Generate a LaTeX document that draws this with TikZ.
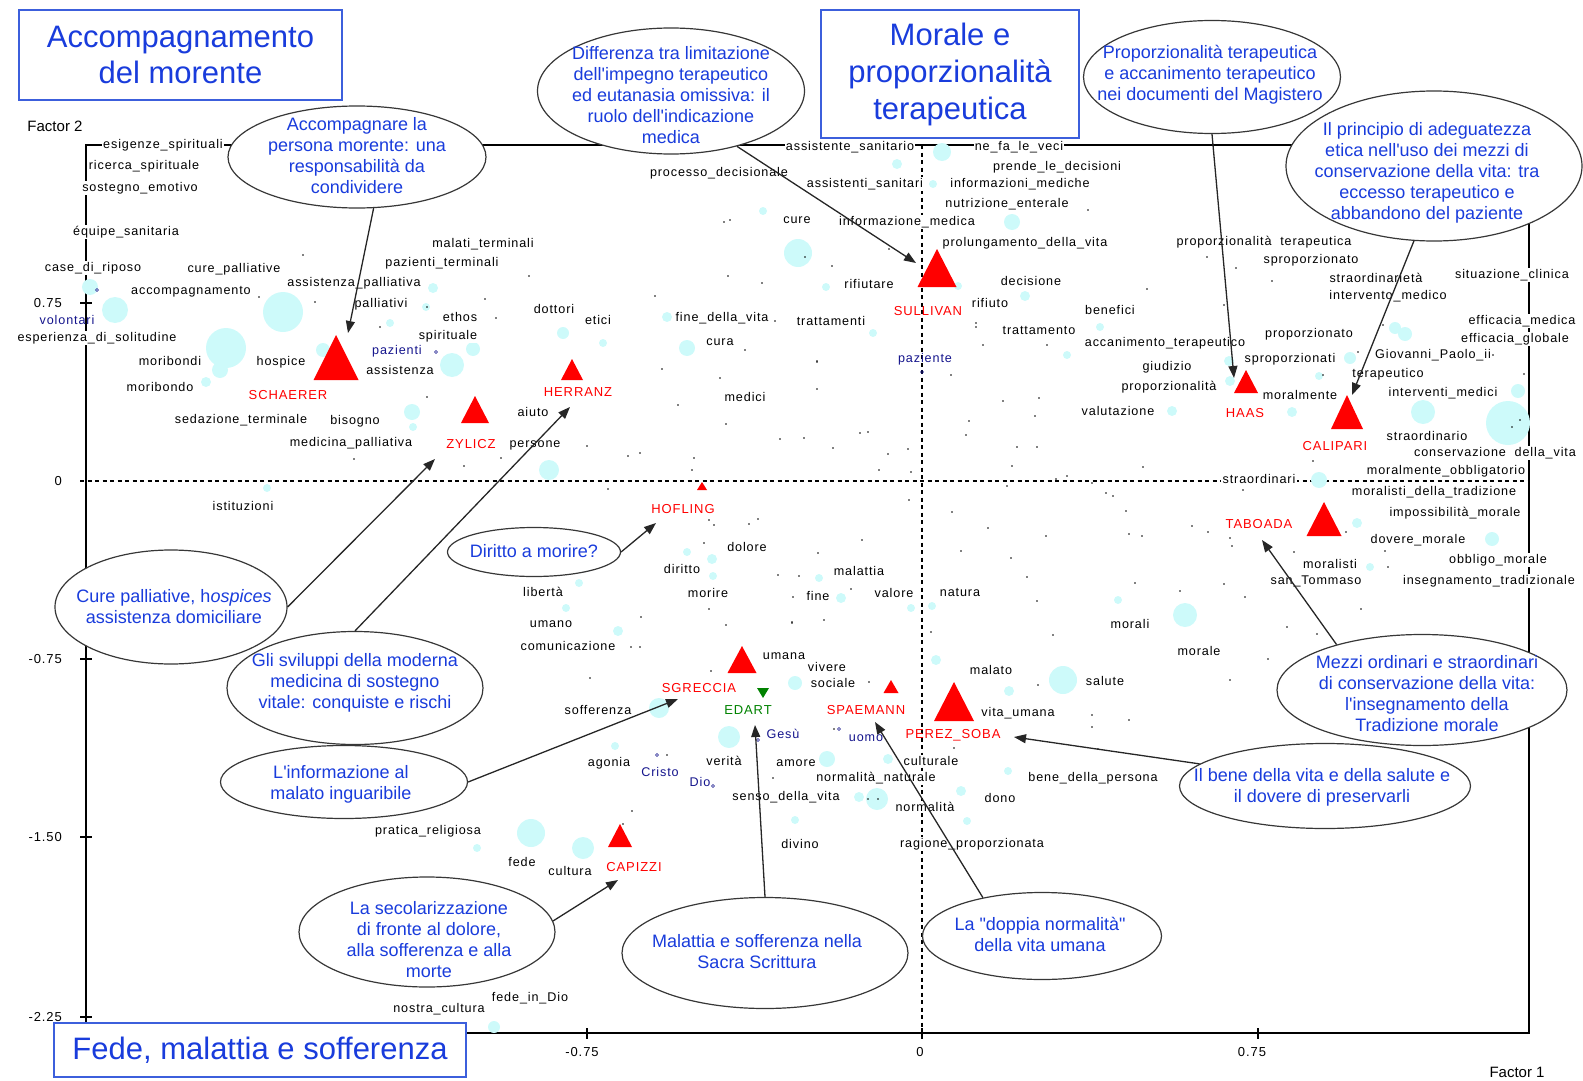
\documentclass[tikz,border=0pt]{standalone}
\usepackage{fontspec}
\setmainfont{Liberation Sans}
\newfontfamily\lblfont[LetterSpace=7]{Liberation Sans}
\newfontfamily\ovalfont{Liberation Sans}
\usetikzlibrary{arrows.meta,shapes.geometric}

\definecolor{titleblue}{RGB}{25,60,220}
\definecolor{boxblue}{RGB}{60,95,220}
\definecolor{navy}{RGB}{20,20,140}
\definecolor{bubble}{RGB}{205,250,250}
\definecolor{authred}{RGB}{255,0,0}
\definecolor{authgreen}{RGB}{0,130,0}
\definecolor{outline}{RGB}{55,55,55}

\begin{document}
\begin{tikzpicture}[x=1pt,y=-1pt,
  lbl/.style={font=\lblfont\fontsize{12.6}{13}\selectfont, inner sep=1.2pt, fill=white, text=black},
  term/.style={font=\lblfont\fontsize{12.6}{13}\selectfont, inner sep=1pt, text=navy},
  auth/.style={font=\lblfont\fontsize{13}{14}\selectfont, text=authred, inner sep=0pt},
  axlbl/.style={font=\lblfont\fontsize{13}{14}\selectfont, inner sep=0pt},
  oval/.style={ellipse, draw=outline, line width=1.2pt, fill=white, inner sep=0pt},
  ovaltext/.style={align=center, text=titleblue, inner sep=0pt, font=\ovalfont\fontsize{18}{21}\selectfont},
  titlebox/.style={draw=boxblue, line width=1.4pt, fill=white, align=center, text=titleblue, inner sep=0pt, font=\ovalfont\fontsize{31}{36.5}\selectfont},
  conn/.style={draw=black!85, line width=1.3pt, -{Triangle[length=12pt,width=9pt]}},
  axisline/.style={line width=1.1pt},
  refline/.style={line width=1.1pt, dash pattern=on 4pt off 3.5pt},
  bub/.style={fill=bubble},
  termmark/.style={draw=navy, line width=0.6pt},
]

\useasboundingbox (0,0) rectangle (1583,1081);

% plot frame and ticks
\draw[axisline] (86,145) -- (1529,145) -- (1529,1033) -- (86,1033) -- cycle;
\foreach \yy in {303,659,837,1017} \draw[axisline] (80,\yy) -- (92,\yy);
\foreach \xx in {587,922,1258} \draw[axisline] (\xx,1028) -- (\xx,1039);

% zero reference lines
\draw[refline] (80,481) -- (1529,481);
\draw[refline] (922,145) -- (922,1039);

% axis labels
\node[axlbl, anchor=east] (ty1) at (62,303) {0.75};
\node[axlbl, anchor=east] (ty2) at (62,481) {0};
\node[axlbl, anchor=east] (ty3) at (62,659) {-0.75};
\node[axlbl, anchor=east] (ty4) at (62,837) {-1.50};
\node[axlbl, anchor=east] (ty5) at (62,1017) {-2.25};
\node[axlbl] (tx1) at (582,1052) {-0.75};
\node[axlbl] (tx2) at (920,1052) {0};
\node[axlbl] (tx3) at (1252,1052) {0.75};
\node[font=\fontsize{15}{16}\selectfont, inner sep=0pt] (f2) at (55,126) {Factor 2};
\node[font=\fontsize{15}{16}\selectfont, inner sep=0pt] (f1) at (1517,1072) {Factor 1};

% point masses
\foreach \x/\y/\r in {115/310/13, 90/287/8, 283/312/20, 226/348/20, 220/370/8, 206/382/5, 323/350/7,
  390/323/4, 433/288/5, 426/307/4, 452/365/12, 473/349/7, 412/412/8, 413/427/4, 563/333/6, 603/343/4,
  687/348/8, 667/317/5, 763/211/4, 798/253/14, 942/152/9, 897/164/5, 933/184/4, 1012/222/8, 1025/296/5,
  826/287/4, 873/333/4, 1100/327/4, 1067/355/4, 958/286/4, 1395/328/6, 1405/334/7, 1229/361/5,
  1350/358/6, 1292/412/5, 1319/376/4, 1423/412/12, 1508/423/22, 1518/391/7, 1230/381/5, 1319/480/8,
  1357/523/5, 1492/539/7, 1370/567/4, 1185/615/12, 1118/600/4, 1063/680/14, 1009/691/5, 936/660/5,
  932/606/4, 911/608/4, 841/598/5, 819/578/4, 795/683/7, 1172/411/5, 549/470/10, 687/552/4, 712/559/5,
  713/576/4, 579/583/4, 566/608/4, 618/631/5, 659/708/10, 267/488/4, 729/737/11, 615/746/4, 531/833/14,
  583/848/11, 477/848/4, 494/1027/6, 827/759/8, 888/759/5, 877/799/11, 859/797/5, 961/791/5, 967/821/4,
  1008/771/4, 795/820/4}
  \fill[bub] (\x,\y) circle[radius=\r pt];

\foreach \x/\y in {662/369, 720/378, 678/405, 427/397, 726/424, 780/439, 587/446, 501/458, 464/466,
  628/456, 640/453, 694/458, 692/470, 608/489, 709/520, 714/525, 749/524, 758/519, 704/543, 778/575,
  709/609, 641/617, 726/625, 793/597, 792/623, 631/647, 640/647, 590/678, 711/671,
  817/362, 951/375, 817/389, 1003/401, 1039/398, 1035/416, 969/421, 860/433, 868/432, 804/438, 966/435,
  833/448, 888/454, 908/449, 1017/447, 1037/447, 1012/466, 879/470, 911/472, 1143/467, 1056/479,
  1067/476, 1007/486, 1092/483, 1106/493, 1113/496, 909/500, 952/512, 1126/511, 988/528, 1046/536,
  1129/534, 1142/536, 862/540, 818/553, 961/551, 1011/558, 799/576, 1027/577, 1135/583, 851/589,
  1180/591, 1037/601, 792/622, 824/620, 931/632, 1053/635, 869/682, 1038/685, 1092/715, 1129/720,
  1323/375, 1524/374, 1313/461, 1243/490, 1192/526, 1208/532, 1230/538, 1232/546, 1294/552, 1346/532,
  1385/551, 1388/567, 1224/584, 1245/597, 1361/609, 1287/627, 1317/634, 1268/659, 1230/680,
  1088/210, 1147/289, 805/257, 832/266, 889/249, 1047/345, 983/345, 976/323, 976/327, 817/361,
  1207/257, 1236/268, 1272/281, 1224/305, 1383/325, 1358/352, 1493/355,
  529/276, 485/299, 496/318, 728/276, 762/283, 655/296, 724/222, 730/220, 745/350, 775/321, 427/307,
  303/255, 259/297, 315/302, 380/327, 354/459, 667/755, 632/811, 773/778, 623/824, 834/729, 868/799,
  878/799, 954/748, 1092/727, 1098/749, 1520/420, 1512/427}
  \fill (\x,\y) circle[radius=0.9pt];

% word labels
\foreach \x/\y/\t [count=\i] in {163/145/esigenze\_spirituali, 144/166/ricerca\_spirituale,
  140/188/sostegno\_emotivo, 126/232/équipe\_sanitaria, 93/268/case\_di\_riposo, 234/269/cure\_palliative,
  191/292/accompagnamento, 354/283/assistenza\_palliativa, 381/304/palliativi,
  97/338/esperienza\_di\_solitudine, 170/361/moribondi, 281/362/hospice, 160/387/moribondo,
  241/420/sedazione\_terminale, 355/421/bisogno, 351/443/medicina\_palliativa, 243/506/istituzioni,
  400/370/assistenza, 719/173/processo\_decisionale, 483/244/malati\_terminali,
  442/263/pazienti\_terminali, 460/317/ethos, 554/309/dottori, 598/320/etici, 722/318/fine\_della\_vita,
  448/336/spirituale, 720/342/cura, 797/220/cure, 850/147/assistente\_sanitario, 1019/147/ne\_fa\_le\_veci,
  1057/167/prende\_le\_decisioni, 865/184/assistenti\_sanitari, 1020/184/informazioni\_mediche,
  1007/204/nutrizione\_enterale, 907/222/informazione\_medica, 1025/243/prolungamento\_della\_vita,
  869/284/rifiutare, 1031/281/decisione, 990/303/rifiuto, 1110/310/benefici, 831/321/trattamenti,
  1039/330/trattamento, 1165/343/accanimento\_terapeutico, 1264/242/proporzionalità\ \ terapeutica,
  1311/260/sproporzionato, 1376/278/straordinarietà, 1512/275/situazione\_clinica,
  1388/296/intervento\_medico, 1522/321/efficacia\_medica, 1515/339/efficacia\_globale,
  1309/334/proporzionato, 1290/359/sproporzionati, 1433/355/Giovanni\_Paolo\_ii, 1167/367/giudizio,
  1169/387/proporzionalità, 1118/411/valutazione, 1388/374/terapeutico, 1300/395/moralmente,
  1443/393/interventi\_medici, 1427/436/straordinario, 1495/453/conservazione\ \ della\_vita,
  1446/471/moralmente\_obbligatorio, 1259/479/straordinari, 1434/492/moralisti\_della\_tradizione,
  1455/513/impossibilità\_morale, 1418/540/dovere\_morale, 1498/560/obbligo\_morale, 1330/564/moralisti,
  1316/581/san\_Tommaso, 1489/581/insegnamento\_tradizionale, 1199/651/morale, 1130/624/morali,
  533/412/aiuto, 535/445/persone, 745/397/medici, 747/547/dolore, 682/569/diritto, 543/592/libertà,
  708/593/morire, 551/624/umano, 568/646/comunicazione, 784/656/umana, 598/710/sofferenza,
  859/571/malattia, 818/596/fine, 894/593/valore, 960/592/natura, 827/667/vivere, 833/683/sociale,
  991/670/malato, 1105/681/salute, 1018/713/vita\_umana, 609/763/agonia, 724/761/verità, 796/763/amore,
  786/797/senso\_della\_vita, 428/831/pratica\_religiosa, 522/862/fede, 570/871/cultura, 800/844/divino,
  530/998/fede\_in\_Dio, 439/1009/nostra\_cultura, 931/761/culturale, 876/778/normalità\_naturale,
  925/807/normalità, 1000/798/dono, 1093/778/bene\_della\_persona, 972/844/ragione\_proporzionata}
  \node[lbl] (w\i) at (\x,\y) {\t};

% supplementary terms
\foreach \x/\y/\t [count=\i] in {67/320/volontari, 397/351/pazienti, 925/359/paziente, 783/734/Gesù,
  660/772/Cristo, 700/782/Dio, 866/738/uomo}
  \node[term] (s\i) at (\x,\y) {\t};
\foreach \x/\y in {97/290, 436/352, 922/372, 758/740, 657/755, 713/786, 839/729}
  \draw[termmark] (\x,\y) circle[radius=1.5pt];

% authors
\foreach \cx/\yb/\w/\h in {336/380/45/45, 572/380/22/21, 475/423/28/27, 937/287/39/38, 1246/393/24/23,
  1347/429/32/34, 1324/536/35/34, 702/490/10/8, 742/673/29/27, 891/693/15/13, 954/721/40/39, 620/847/24/23}
  \fill[authred] (\cx-\w/2,\yb) -- (\cx,\yb-\h) -- (\cx+\w/2,\yb) -- cycle;
\fill[authgreen] (757,688) -- (769,688) -- (763,698) -- cycle;

\node[auth] (a1) at (288,395) {SCHAERER};
\node[auth] (a2) at (578,392) {HERRANZ};
\node[auth] (a3) at (471,444) {ZYLICZ};
\node[auth] (a4) at (928,311) {SULLIVAN};
\node[auth] (a5) at (1245,413) {HAAS};
\node[auth] (a6) at (1335,446) {CALIPARI};
\node[auth] (a7) at (1259,524) {TABOADA};
\node[auth] (a8) at (683,509) {HOFLING};
\node[auth] (a9) at (699,688) {SGRECCIA};
\node[auth, text=authgreen] (a10) at (748,710) {EDART};
\node[auth] (a11) at (866,710) {SPAEMANN};
\node[auth] (a12) at (953,735) {PEREZ\_SOBA};
\node[auth] (a13) at (634,867) {CAPIZZI};

% section titles
\node[titlebox, minimum width=323pt, minimum height=90pt] (t1) at (180.5,55) {Accompagnamento\\del morente};
\node[titlebox, minimum width=258pt, minimum height=128pt, font=\ovalfont\fontsize{31}{37}\selectfont] (t2) at (950,74) {Morale e\\proporzionalità\\terapeutica};
\node[titlebox, minimum width=412pt, minimum height=54pt] (t3) at (260,1050) {Fede, malattia e sofferenza};

% topic ovals
\node[oval, minimum width=258pt, minimum height=102pt] (e1) at (357,157) {};
\node[ovaltext] (e1t) at (357,156) {Accompagnare la\\persona morente: una\\responsabilità da\\condividere};
\node[oval, minimum width=267pt, minimum height=126pt] (e2) at (671,91) {};
\node[ovaltext] (e2t) at (671,95) {Differenza tra limitazione\\dell'impegno terapeutico\\ed eutanasia omissiva: il\\ruolo dell'indicazione\\medica};
\node[oval, minimum width=257pt, minimum height=113pt] (e3) at (1212,77) {};
\node[ovaltext] (e3t) at (1210,75) {Proporzionalità terapeutica\\e accanimento terapeutico\\nei documenti del Magistero};
\node[oval, minimum width=296pt, minimum height=150pt] (e4) at (1434,166) {};
\node[ovaltext] (e4t) at (1427,173) {Il principio di adeguatezza\\etica nell'uso dei mezzi di\\conservazione della vita: tra\\eccesso terapeutico e\\abbandono del paziente};
\node[oval, minimum width=232pt, minimum height=114pt] (e5) at (171,607) {};
\node[ovaltext] (e5t) at (174,607) {Cure palliative, h{\itshape ospices}\\assistenza domiciliare};
\node[oval, minimum width=256pt, minimum height=113pt] (e6) at (355,688) {};
\node[ovaltext] (e6t) at (355,683) {Gli sviluppi della moderna\\medicina di sostegno\\vitale: conquiste e rischi};
\node[oval, minimum width=173pt, minimum height=49pt] (e7) at (534,552) {};
\node[ovaltext] (e7t) at (534,551) {Diritto a morire?};
\node[oval, minimum width=247pt, minimum height=73pt] (e8) at (344,782) {};
\node[ovaltext] (e8t) at (341,784) {L'informazione al\\malato inguaribile};
\node[oval, minimum width=256pt, minimum height=110pt] (e9) at (427,932) {};
\node[ovaltext] (e9t) at (429,940) {La secolarizzazione\\di fronte al dolore,\\alla sofferenza e alla\\morte};
\node[oval, minimum width=286pt, minimum height=111pt] (e10) at (765,953) {};
\node[ovaltext] (e10t) at (757,952) {Malattia e sofferenza nella\\Sacra Scrittura};
\node[oval, minimum width=239pt, minimum height=87pt] (e11) at (1042,936) {};
\node[ovaltext] (e11t) at (1040,934) {La "doppia normalità"\\della vita umana};
\node[oval, minimum width=290pt, minimum height=111pt] (e12) at (1422,690) {};
\node[ovaltext] (e12t) at (1427,694) {Mezzi ordinari e straordinari\\di conservazione della vita:\\l'insegnamento della\\Tradizione morale};
\node[oval, minimum width=291pt, minimum height=85pt] (e13) at (1325,786) {};
\node[ovaltext] (e13t) at (1322,787) {Il bene della vita e della salute e\\il dovere di preservarli};

% arrow targets
\coordinate (p1) at (348,333);
\coordinate (p2) at (916,263);
\coordinate (p3) at (1234,378);
\coordinate (p4) at (1352,395);
\coordinate (p5) at (435,459);
\coordinate (p6) at (570,407);
\coordinate (p7) at (656,523);
\coordinate (p8) at (678,699);
\coordinate (p9) at (618,880);
\coordinate (p10) at (755,725);
\coordinate (p11) at (875,722);
\coordinate (p12) at (1014,737);
\coordinate (p13) at (1262,540);

% connectors
\draw[conn] (e1.288) -- (p1);
\draw[conn] (e2.-40) -- (p2);
\draw[conn] (e3.south) -- (p3);
\draw[conn] (e4.255) -- (p4);
\draw[conn] (e5.east) -- (p5);
\draw[conn] (e6.north) -- (p6);
\draw[conn] (e7.east) -- (p7);
\draw[conn] (e8.east) -- (p8);
\draw[conn] (e9.5) -- (p9);
\draw[conn] (e10.north) -- (p10);
\draw[conn] (e11.147) -- (p11);
\draw[conn] (e13.170) -- (p12);
\draw[conn] (e12.152) -- (p13);

\end{tikzpicture}
\end{document}
